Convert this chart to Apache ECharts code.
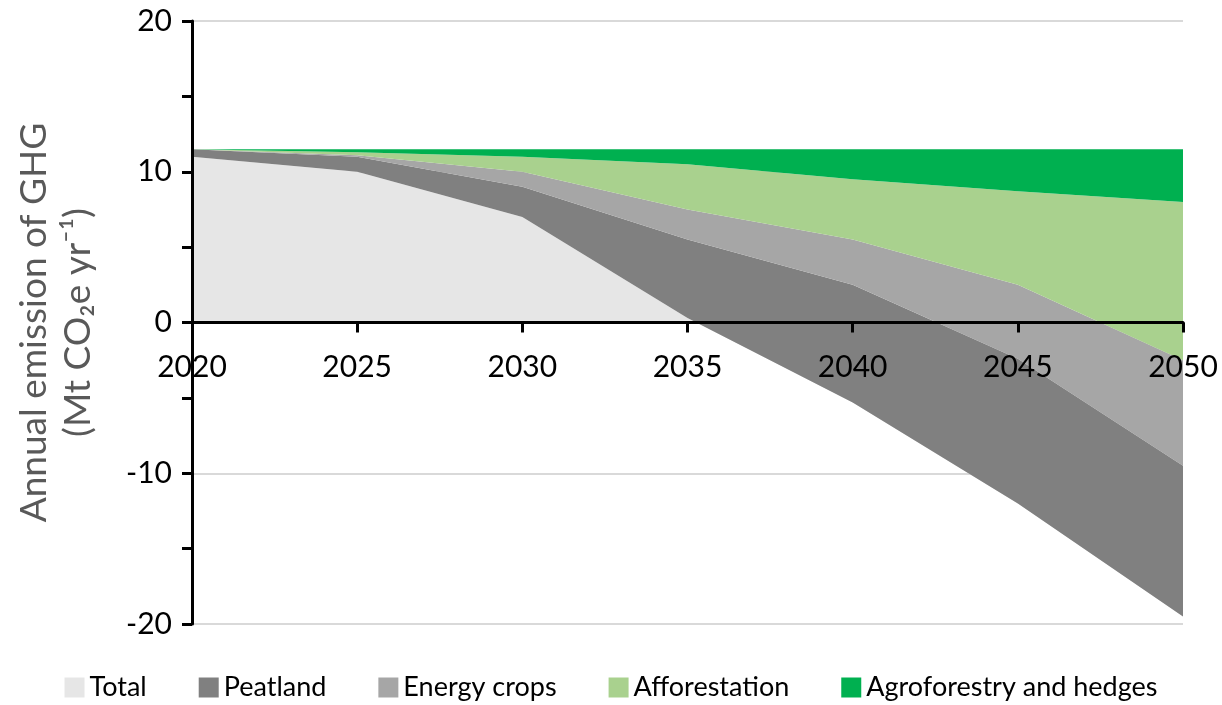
<!DOCTYPE html>
<html>
<head>
<meta charset="utf-8">
<script src="https://cdn.jsdelivr.net/npm/echarts@6/dist/echarts.min.js"></script>
<style>
  html, body { margin: 0; padding: 0; background: #fff; }
  #chart { width: 1222px; height: 705px; }
</style>
</head>
<body>
<div id="chart"></div>
<script>
// years on the x axis
const years = ['2020', '2025', '2030', '2035', '2040', '2045', '2050'];

// contribution of each band (Mt CO2e / yr), stacked from the bottom
const total        = [11, 10, 7, 0.3, -5.3, -12, -19.5];
const peatland     = [0.5, 1.0, 2.0, 5.2, 7.8, 9.6, 10.0];
const energyCrops  = [0, 0.1, 1.0, 2.0, 3.0, 4.9, 7.0];
const afforest     = [0, 0.2, 1.0, 3.0, 4.0, 6.2, 10.5];
const agroforestry = [0, 0.2, 0.5, 1.0, 2.0, 2.8, 3.5];

const names = ['Total', 'Peatland', 'Energy crops', 'Afforestation', 'Agroforestry and hedges'];
const colors = ['#e6e6e6', '#808080', '#a6a6a6', '#a9d18e', '#00b050'];

const FONT = 'Lato, "Noto Sans", sans-serif';
const GRID_H = 705 - 21 - 81;

const chart = echarts.init(document.getElementById('chart'));

function band(name, data, i) {
  return {
    name: name,
    type: 'line',
    stack: 'emis',
    stackStrategy: 'all',
    data: data,
    symbol: 'none',
    lineStyle: { width: 0 },
    areaStyle: { color: colors[i], opacity: 1 },
    itemStyle: { color: colors[i] },
    z: 2
  };
}

const yBase = { type: 'value', min: -20, max: 20, interval: 10, position: 'left' };

chart.setOption({
  animation: false,
  textStyle: { fontFamily: FONT },
  grid: { left: 192, right: 39, top: 21, bottom: 81, containLabel: false },
  legend: {
    bottom: -1,
    left: 'center',
    itemWidth: 20,
    itemHeight: 20,
    itemGap: 52,
    icon: 'rect',
    textStyle: { fontSize: 27, color: '#000', fontFamily: FONT },
    data: names
  },
  xAxis: {
    type: 'category',
    data: years,
    boundaryGap: false,
    position: 'bottom',
    offset: -GRID_H / 2,
    z: 5,
    axisLine: { onZero: false, lineStyle: { color: '#000', width: 3 } },
    axisTick: { show: true, length: 10, inside: false, lineStyle: { color: '#000', width: 3 } },
    axisLabel: { fontSize: 30, color: '#000', margin: 30, fontFamily: FONT },
    splitLine: { show: false }
  },
  yAxis: [
    Object.assign({}, yBase, {
      z: 0,
      axisLine: { show: false },
      axisTick: { show: false },
      axisLabel: { show: false },
      splitLine: { show: true, lineStyle: { color: '#d9d9d9', width: 2 } }
    }),
    Object.assign({}, yBase, {
      z: 5,
      name: 'Annual emission of GHG\n(Mt CO\u2082e yr\u207B\u00B9)',
      nameLocation: 'middle',
      nameGap: 92,
      nameRotate: 90,
      nameTextStyle: { fontSize: 37, color: '#595959', lineHeight: 44, fontFamily: FONT },
      axisLine: { show: true, lineStyle: { color: '#000', width: 3 } },
      axisTick: { show: true, length: 10, lineStyle: { color: '#000', width: 3 } },
      minorTick: { show: true, splitNumber: 2, length: 10, lineStyle: { color: '#000', width: 3 } },
      axisLabel: { fontSize: 30, color: '#000', margin: 20, fontFamily: FONT },
      splitLine: { show: false }
    })
  ],
  series: [
    band(names[0], total, 0),
    band(names[1], peatland, 1),
    band(names[2], energyCrops, 2),
    band(names[3], afforest, 3),
    band(names[4], agroforestry, 4)
  ]
});
</script>
</body>
</html>
